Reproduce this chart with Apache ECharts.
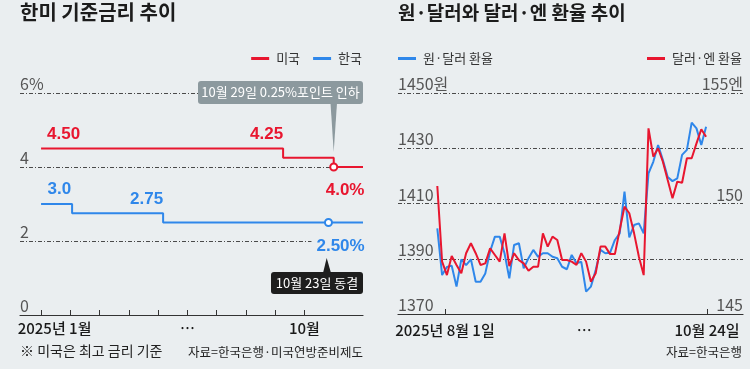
<!DOCTYPE html>
<html><head><meta charset="utf-8">
<script src="https://cdn.jsdelivr.net/npm/echarts@6/dist/echarts.min.js"></script>
<style>html,body{margin:0;padding:0;background:#eaeef0;}#c{width:750px;height:369px;}</style>
</head><body><div id="c"></div>
<script>
// ---------- Left panel: policy rates (x = months after the Jan-2025 tick) ----------
const usRateX = [0, 8.27, 10.0, 11.0];
const usRate  = [4.5, 4.25, 4.0, 4.0];
const krRateX = [0, 1.06, 4.17, 9.82, 11.0];
const krRate  = [3.0, 2.75, 2.5, 2.5, 2.5];
const rateTicks = [0, 1, 2, 3, 4, 5, 6, 7, 8, 9];
const rateLabelPos = [0, 5, 9];
const rateLabels = ['2025년 1월', '…', '10월'];

// ---------- Right panel: exchange rates (x = trading-day index) ----------
const krwUsd = [1401.0, 1384.1, 1387.0, 1387.5, 1379.9, 1389.8, 1387.7, 1389.8, 1381.7, 1381.7,
  1384.7, 1392.6, 1398.0, 1398.0, 1392.0, 1382.9, 1395.0, 1395.6, 1386.5, 1390.2,
  1393.2, 1390.7, 1392.0, 1392.0, 1390.7, 1390.2, 1387.1, 1386.2, 1391.4, 1388.4,
  1388.9, 1378.1, 1379.9, 1385.9, 1393.2, 1392.0, 1392.2, 1396.8, 1399.2, 1414.3,
  1397.7, 1402.2, 1402.8, 1399.2, 1420.9, 1425.1, 1431.2, 1425.7, 1419.6, 1418.1,
  1419.1, 1427.6, 1429.4, 1439.3, 1437.2, 1431.2, 1437.8];
const usdJpy = [150.79, 147.37, 146.76, 147.62, 147.22, 146.84, 147.75, 148.20, 147.75, 147.22,
  147.29, 147.97, 147.67, 147.37, 148.65, 147.17, 147.75, 147.44, 147.29, 146.96,
  147.14, 147.14, 148.65, 148.05, 148.50, 148.35, 147.44, 147.44, 147.37, 147.22,
  147.75, 147.37, 146.46, 146.84, 148.05, 148.05, 147.71, 147.71, 148.80, 149.86,
  149.56, 148.65, 147.59, 146.76, 153.40, 152.12, 152.50, 151.89, 151.06, 150.24,
  150.99, 150.94, 152.05, 152.05, 152.72, 153.36, 153.02];
const fxTickPos = [1.6, 56.2];
const fxLabelPos = [1.6, 30.6, 56.2];
const fxLabels = ['2025년 8월 1일', '…', '10월 24일'];

// ---------- styles ----------
const BG = '#eaeef0', RED = '#e8162f', BLUE = '#2f87ea';
const NUMF = "'Liberation Sans Narrow','Noto Sans CJK KR',sans-serif";
const KF = "'Noto Sans CJK KR',sans-serif";
const BOLDF = "'Liberation Sans','Noto Sans CJK KR',sans-serif";
const GRIDLINE = {show: true, lineStyle: {color: '#4a4a4a', width: 1, type: [4, 2, 1, 2]}};

function valLabel(color, dec, suffix, pos, align, offset, extra) {
  return Object.assign({
    show: true, position: pos, distance: 0, align: align, offset: offset,
    formatter: p => p.value[1].toFixed(dec) + suffix,
    color: color, fontSize: 17, fontWeight: 'bold', fontFamily: BOLDF
  }, extra || {});
}
const usItemStyle = {
  0: {label: valLabel(RED, 2, '', 'top', 'left', [6, -6])},
  1: {label: valLabel(RED, 2, '', 'top', 'right', [0, -15])},
  2: {symbol: 'emptyCircle', symbolSize: 7, label: valLabel(RED, 1, '%', 'bottom', 'left', [-8, 10])}
};
const krItemStyle = {
  0: {label: valLabel(BLUE, 1, '', 'top', 'left', [6.5, -6.5])},
  1: {label: valLabel(BLUE, 2, '', 'top', 'right', [91, -5])},
  3: {symbol: 'emptyCircle', symbolSize: 7,
      label: valLabel(BLUE, 2, '%', 'bottom', 'left', [-17, 11], {backgroundColor: BG, padding: [0, 2, 0, 5]})}
};
function stepData(xs, ys, styles) {
  return xs.map((x, i) => Object.assign({value: [x, ys[i]], symbol: 'circle', symbolSize: 0}, styles[i] || {}));
}

const chart = echarts.init(document.getElementById('c'), null, {renderer: 'canvas'});
chart.setOption({
  backgroundColor: BG,
  animation: false,
  title: [
    {text: '한미 기준금리 추이', left: 20, top: 2, padding: 0,
     textStyle: {fontSize: 20, fontWeight: 'bold', color: '#1c1c1c', fontFamily: KF}},
    {text: '원·달러와 달러·엔 환율 추이', left: 398, top: 3, padding: 0,
     textStyle: {fontSize: 19, fontWeight: 'bold', color: '#1c1c1c', fontFamily: KF}},
    {text: '※ 미국은 최고 금리 기준', left: 20, top: 344, padding: 0,
     textStyle: {fontSize: 14, fontWeight: 'normal', color: '#222', fontFamily: KF}},
    {text: '자료=한국은행·미국연방준비제도', right: 387, top: 346, padding: 0,
     textStyle: {fontSize: 12.5, fontWeight: 'normal', color: '#222', fontFamily: KF}},
    {text: '자료=한국은행', right: 8, top: 346, padding: 0,
     textStyle: {fontSize: 12.5, fontWeight: 'normal', color: '#222', fontFamily: KF}}
  ],
  legend: [
    {data: ['미국', '한국'], right: 388, top: 52, padding: 0, icon: 'rect', itemWidth: 18, itemHeight: 3, itemGap: 13,
     textStyle: {fontSize: 13, color: '#333', fontFamily: KF, padding: [0, 0, 0, 2]}},
    {data: ['원·달러 환율'], left: 398, top: 52, padding: 0, icon: 'rect', itemWidth: 18, itemHeight: 3,
     textStyle: {fontSize: 13, color: '#333', fontFamily: KF, padding: [0, 0, 0, 2]}},
    {data: ['달러·엔 환율'], right: 8, top: 52, padding: 0, icon: 'rect', itemWidth: 18, itemHeight: 3,
     textStyle: {fontSize: 13, color: '#333', fontFamily: KF, padding: [0, 0, 0, 2]}}
  ],
  grid: [
    {left: 20, right: 387, top: 93, bottom: 54},
    {left: 398, right: 7, top: 93, bottom: 55}
  ],
  xAxis: [
    {type: 'value', gridIndex: 0, min: -0.72, max: 11.0,
     axisLine: {show: true, lineStyle: {color: '#333', width: 1.2}},
     axisTick: {show: true, inside: true, length: 5, customValues: rateTicks, lineStyle: {color: '#333'}},
     axisLabel: {show: true, customValues: rateLabelPos, margin: 6, fontSize: 15, fontWeight: 500, color: '#1a1a1a', fontFamily: NUMF,
       formatter: v => { const i = rateLabelPos.indexOf(v); return i === 0 ? '{f|' + rateLabels[0] + '}' : (i > 0 ? rateLabels[i] : ''); },
       rich: {f: {padding: [0, 0, 0, 27], fontSize: 15, fontWeight: 500, color: '#1a1a1a', fontFamily: NUMF}}},
     splitLine: {show: false}},
    {type: 'value', gridIndex: 1, min: -8.19, max: 63.69,
     axisLine: {show: true, lineStyle: {color: '#333', width: 1.2}},
     axisTick: {show: true, inside: true, length: 5, customValues: fxTickPos, lineStyle: {color: '#333'}},
     axisLabel: {show: true, customValues: fxLabelPos, margin: 9, fontSize: 15, fontWeight: 500, color: '#1a1a1a', fontFamily: NUMF,
       formatter: v => { const i = fxLabelPos.indexOf(v); return i >= 0 ? fxLabels[i] : ''; }},
     splitLine: {show: false}}
  ],
  yAxis: [
    {type: 'value', gridIndex: 0, min: 0, max: 6, interval: 2,
     axisLine: {show: false}, axisTick: {show: false}, splitLine: GRIDLINE,
     axisLabel: {inside: true, margin: 0, align: 'left', verticalAlign: 'bottom', padding: [0, 0, 1, 0],
       fontSize: 16, color: '#555', fontFamily: NUMF, formatter: v => v === 6 ? '6%' : String(v)}},
    {type: 'value', gridIndex: 1, min: 1370, max: 1450, interval: 20,
     axisLine: {show: false}, axisTick: {show: false}, splitLine: GRIDLINE,
     axisLabel: {inside: true, margin: 0, align: 'left', verticalAlign: 'bottom', padding: [0, 0, 1, 0],
       fontSize: 16, color: '#555', fontFamily: NUMF, formatter: v => v === 1450 ? '1450원' : String(v)}},
    {type: 'value', gridIndex: 1, position: 'right', min: 145, max: 155, interval: 5,
     axisLine: {show: false}, axisTick: {show: false}, splitLine: {show: false},
     axisLabel: {inside: true, margin: 0, align: 'right', verticalAlign: 'bottom', padding: [0, 0, 1, 0],
       fontSize: 16, color: '#555', fontFamily: NUMF, formatter: v => v === 155 ? '155엔' : String(v)}}
  ],
  series: [
    {name: '한국', type: 'line', xAxisIndex: 0, yAxisIndex: 0, step: 'end', showSymbol: true,
     data: stepData(krRateX, krRate, krItemStyle), color: BLUE,
     lineStyle: {color: BLUE, width: 2}, itemStyle: {color: BLUE, borderWidth: 2}, z: 3},
    {name: '미국', type: 'line', xAxisIndex: 0, yAxisIndex: 0, step: 'end', showSymbol: true,
     data: stepData(usRateX, usRate, usItemStyle), color: RED,
     lineStyle: {color: RED, width: 2}, itemStyle: {color: RED, borderWidth: 2}, z: 3},
    {name: '원·달러 환율', type: 'line', xAxisIndex: 1, yAxisIndex: 1, showSymbol: false, color: BLUE,
     data: krwUsd.map((v, i) => [i, v]), lineStyle: {color: BLUE, width: 2}},
    {name: '달러·엔 환율', type: 'line', xAxisIndex: 1, yAxisIndex: 2, showSymbol: false, color: RED,
     data: usdJpy.map((v, i) => [i, v]), lineStyle: {color: RED, width: 2}}
  ],
  graphic: [
    {type: 'group', z: 100, children: [
      {type: 'rect', z: 100, shape: {x: 198, y: 81, width: 165, height: 23, r: 3}, style: {fill: '#8c999e'}},
      {type: 'polygon', z: 100, shape: {points: [[330.5, 103], [337, 103], [333.7, 152]]}, style: {fill: '#8c999e'}},
      {type: 'text', z: 101, x: 280.5, y: 92.5, style: {text: '10월 29일 0.25%포인트 인하', fill: '#fff',
        font: "13px 'Liberation Sans Narrow','Noto Sans CJK KR',sans-serif",
        align: 'center', verticalAlign: 'middle', textAlign: 'center', textVerticalAlign: 'middle'}}
    ]},
    {type: 'group', z: 100, children: [
      {type: 'rect', z: 100, shape: {x: 271, y: 272, width: 92, height: 22, r: 3}, style: {fill: '#1e1e1e'}},
      {type: 'polygon', z: 100, shape: {points: [[323, 273], [331, 273], [326.7, 258]]}, style: {fill: '#1e1e1e'}},
      {type: 'text', z: 101, x: 317, y: 283, style: {text: '10월 23일 동결', fill: '#fff',
        font: "13px 'Liberation Sans Narrow','Noto Sans CJK KR',sans-serif",
        align: 'center', verticalAlign: 'middle', textAlign: 'center', textVerticalAlign: 'middle'}}
    ]}
  ]
});
</script></body></html>
